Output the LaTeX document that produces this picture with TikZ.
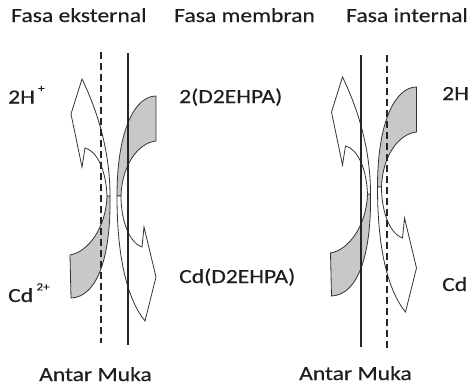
\documentclass[tikz,border=0pt]{standalone}
\usepackage{fontspec}
\setmainfont[FakeStretch=1.18,FakeBold=0.3]{Carlito}
\usepackage{tikz}
\definecolor{mbgrey}{RGB}{200,200,200}
\definecolor{mbtext}{RGB}{30,30,30}
\newcommand{\ionchg}[1]{\raisebox{0.58em}{\fontsize{11}{12}\selectfont #1}}

\begin{document}
\begin{tikzpicture}[
  x=1pt, y=-1pt,
  every node/.style={font=\fontsize{20}{24}\selectfont,text=mbtext,inner sep=0pt,anchor=base west},
  band/.style={draw=black!80,line width=0.8pt,line join=miter},
  greyband/.style={band,fill=mbgrey},
  whitearrow/.style={band,fill=white},
  iface/.style={line width=1.1pt,black!85},
  ifacedash/.style={iface,dash pattern=on 7pt off 4pt},
]
  \useasboundingbox (0,0) rectangle (472,388);

  % Crossing bands (left: external/membrane, right: membrane/internal)
  \foreach \dx/\dyl/\dyr in {0/0/0, 260.5/-2/-9} {
    \begin{scope}[shift={(\dx,\dyl)}]
      \draw[greyband] (110,196) .. controls (111,255) and (98,297) .. (71,298)
        -- (70,255) .. controls (88,252) and (106,228) .. (107,196) -- cycle;
      \draw[whitearrow] (107,196) .. controls (106,170) and (97,151) .. (85,148)
        -- (82,167) -- (71,114) -- (82,79) .. controls (97,110) and (110,150) .. (110,196) -- cycle;
    \end{scope}
    \begin{scope}[shift={(\dx,\dyr)}]
      \draw[greyband] (117,196) .. controls (117,130) and (135,96) .. (156,96)
        -- (156,141) .. controls (138,143) and (122,165) .. (121,196) -- cycle;
      \draw[whitearrow] (121,196) .. controls (121,222) and (130,243) .. (142,247)
        -- (144,227) -- (156,277) -- (145,321) .. controls (128,300) and (117,260) .. (117,196) -- cycle;
    \end{scope}
  }

  % Interfaces
  \draw[ifacedash] (101,52) -- (101,343);
  \draw[iface] (128,53) -- (128,345);
  \draw[iface] (361,55) -- (361,347);
  \draw[ifacedash] (387,55) -- (387,348);

  % Phase labels
  \node (ext) at (11,22) {Fasa eksternal};
  \node (mem) at (174,22) {Fasa membran};
  \node (int) at (346,22) {Fasa internal};

  % Species
  \node (hext) at (8,103.5) {2H\,\ionchg{+}};
  \node (dehpa) at (179,103) {2(D2EHPA)};
  \node (hint) at (442,100) {2H};
  \node (cdext) at (8,302) {Cd\,\ionchg{2+}};
  \node (cddehpa) at (179,283) {Cd(D2EHPA)};
  \node (cdint) at (442,291) {Cd};

  % Interface labels
  \node (amL) at (39,381) {Antar Muka};
  \node (amR) at (299,380) {Antar Muka};
\end{tikzpicture}
\end{document}
